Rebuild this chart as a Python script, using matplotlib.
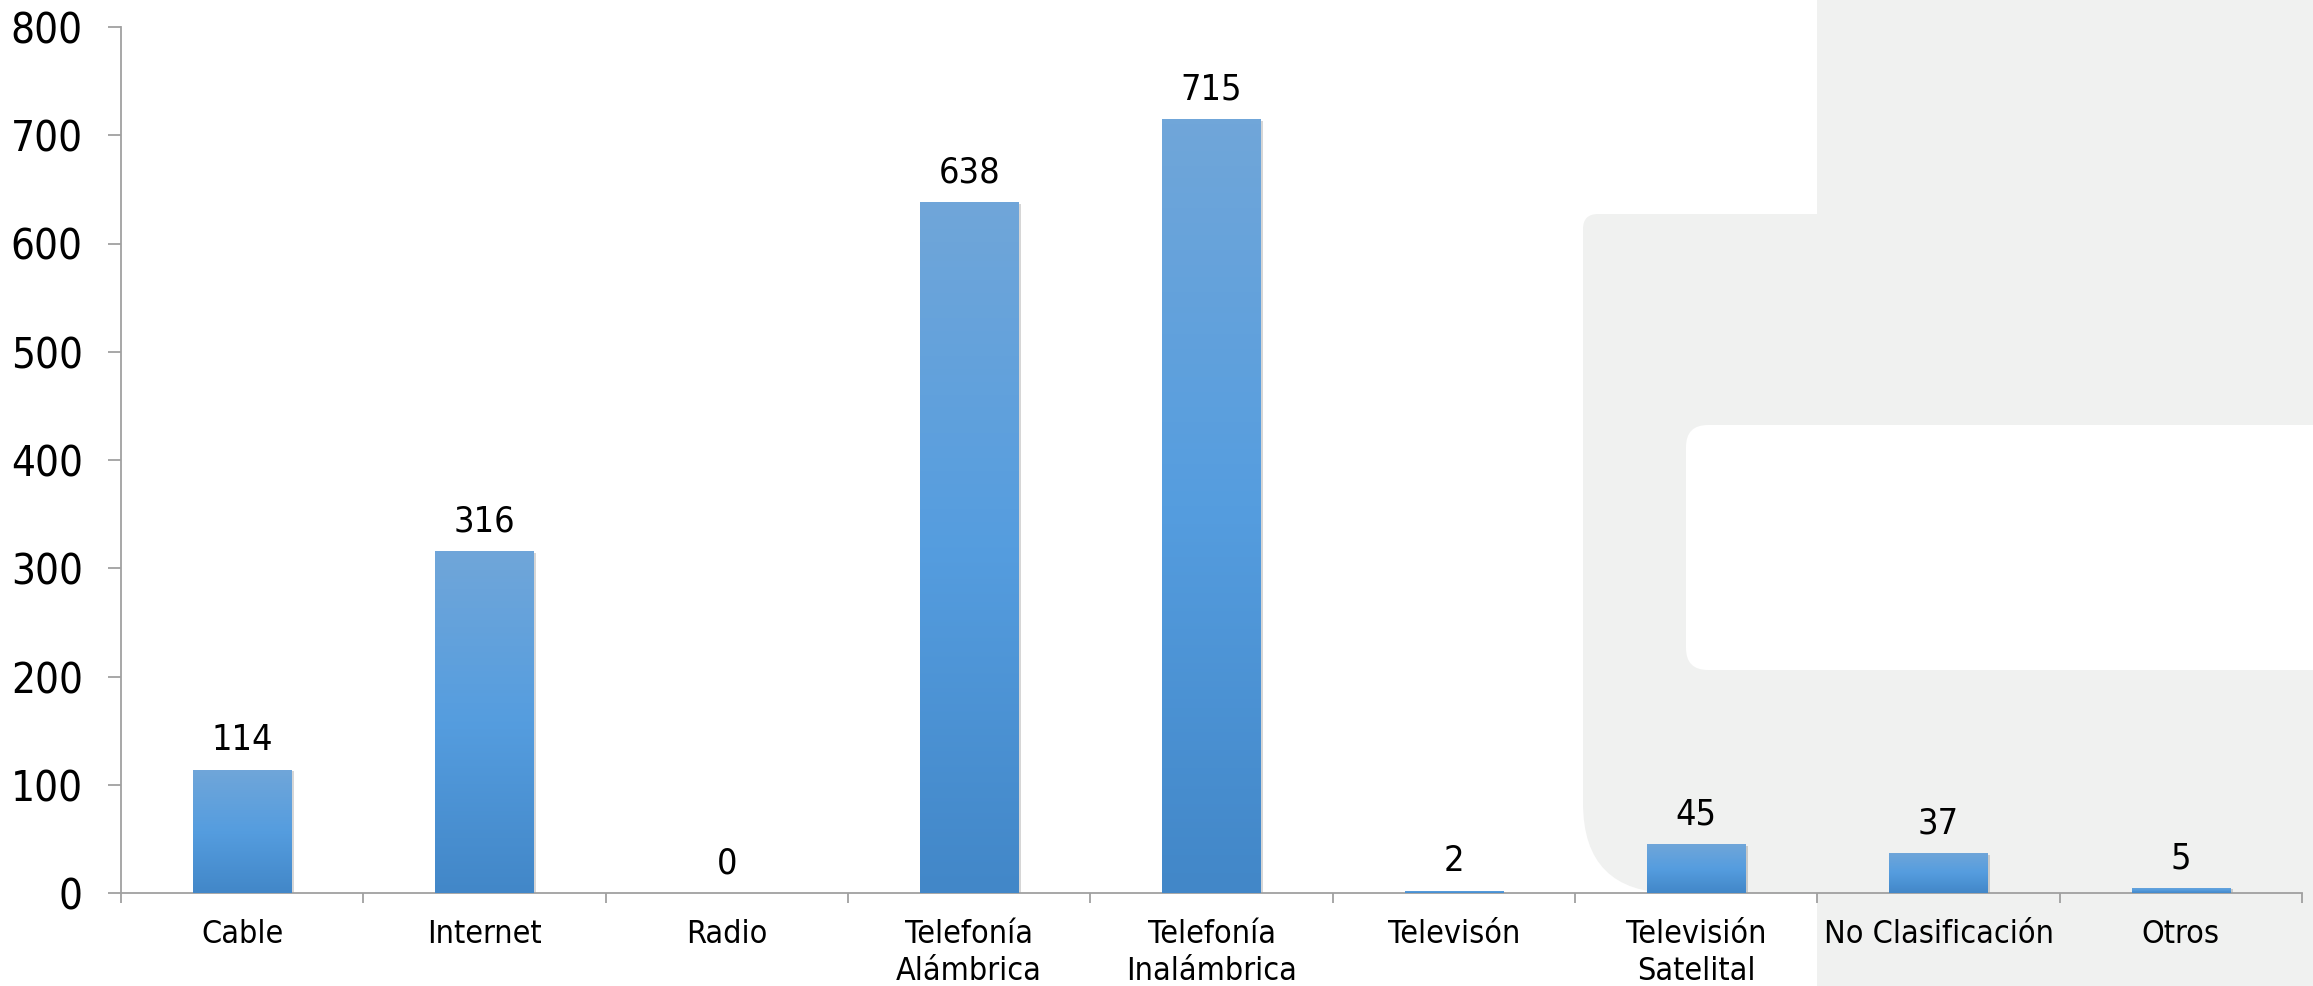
import matplotlib
matplotlib.use("Agg")
import matplotlib.pyplot as plt
import matplotlib.font_manager as fm
import numpy as np
from matplotlib.patches import FancyBboxPatch, Rectangle
from matplotlib.transforms import Affine2D
from matplotlib.colors import LinearSegmentedColormap

categories = ["Cable", "Internet", "Radio", "Telefonía\nAlámbrica", "Telefonía\nInalámbrica",
              "Televisón", "Televisión\nSatelital", "No Clasificación", "Otros"]
values = [114, 316, 0, 638, 715, 2, 45, 37, 5]
yticks = [0, 100, 200, 300, 400, 500, 600, 700, 800]

W, H = 2313, 986
FONT = ["DejaVu Sans"]
cond = any(f.name == "DejaVu Sans" and str(f.stretch) == "condensed" for f in fm.fontManager.ttflist)
STRETCH = "condensed" if cond else "normal"
SC = 1.1 if cond else 1.0

fig = plt.figure(figsize=(W / 100, H / 100), dpi=100)
fig.patch.set_facecolor("white")

# pixel transform (origin top-left)
ptrans = Affine2D().scale(1 / W, -1 / H).translate(0, 1) + fig.transFigure
GRAY = "#f0f1f0"

def add_box(x0, y0, x1, y1, r, color):
    if r > 0:
        p = FancyBboxPatch((x0, y0), x1 - x0, y1 - y0,
                           boxstyle=f"round,pad=0,rounding_size={r}",
                           transform=ptrans, facecolor=color, edgecolor="none", zorder=-10)
    else:
        p = Rectangle((x0, y0), x1 - x0, y1 - y0, transform=ptrans,
                      facecolor=color, edgecolor="none", zorder=-10)
    fig.patches.append(p)

add_box(1817, -50, 2450, 1050, 0, GRAY)
add_box(1583, 214, 2450, 893, 90, GRAY)
add_box(1583, 214, 2450, 600, 15, GRAY)
add_box(-100, -100, 1817, 214, 15, "white")
add_box(1686, 425, 2450, 670, 22, "white")

ax = fig.add_axes([121 / W, 1 - 893 / H, (2302 - 121) / W, (893 - 27) / H])
ax.set_facecolor("none")

x = np.arange(len(categories))
bw = 0.405
bars = ax.bar(x, values, width=bw, color="none", edgecolor="none", zorder=3)

cmap = LinearSegmentedColormap.from_list("g", ["#4287c8", "#559ddf", "#70a6d9"])
grad = np.linspace(0, 1, 256).reshape(-1, 1)
for b, v, xi in zip(bars, values, x):
    if v <= 0:
        continue
    sh = Rectangle((xi - bw / 2 + 0.012, 0), bw, max(v - 1.5, 0.5), facecolor="#000000",
                   alpha=0.16, edgecolor="none", zorder=2)
    ax.add_patch(sh)
    im = ax.imshow(grad, extent=[xi - bw / 2, xi + bw / 2, 0, v], origin="lower",
                   cmap=cmap, aspect="auto", interpolation="bicubic", zorder=3)
    im.set_clip_path(b)
ax.set_xlim(-0.5, len(categories) - 0.5)
ax.set_ylim(0, 800)

for xi, v in zip(x, values):
    ax.annotate(str(v), (xi, v), xytext=(0, 9), textcoords="offset points",
                ha="center", va="bottom", fontsize=23.5 * SC, family=FONT,
                fontstretch=STRETCH, color="black")

for s in ["top", "right"]:
    ax.spines[s].set_visible(False)
for s in ["left", "bottom"]:
    ax.spines[s].set_color("#a0a0a0")
    ax.spines[s].set_linewidth(1.3)

ax.set_yticks(yticks)
ax.set_yticklabels([str(t) for t in yticks], fontsize=27.5 * SC, family=FONT, fontstretch=STRETCH)
ax.tick_params(axis="y", length=9.5, width=1.3, color="#a0a0a0", pad=18)

ax.set_xticks(x)
ax.set_xticklabels(categories, fontsize=21 * SC, family=FONT, fontstretch=STRETCH,
                   linespacing=1.22)
ax.set_xticks(np.arange(-0.5, len(categories), 1.0), minor=True)
ax.tick_params(axis="x", which="major", length=0, pad=19)
ax.tick_params(axis="x", which="minor", length=7.5, width=1.3, color="#a0a0a0")

fig.savefig("out.png", dpi=100, facecolor="white")
